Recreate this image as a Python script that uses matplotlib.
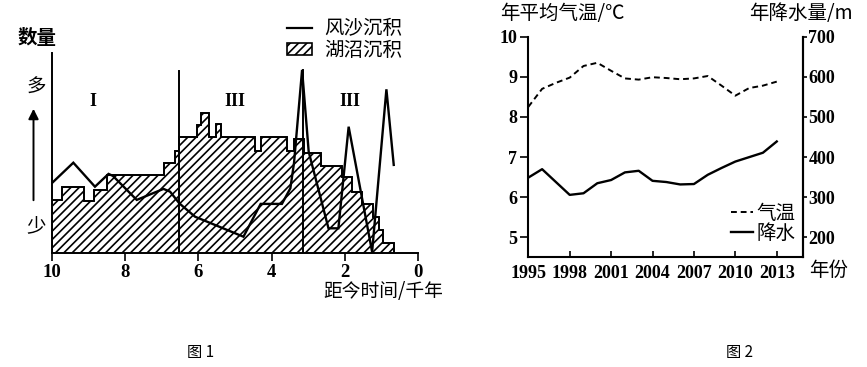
import matplotlib
matplotlib.use("Agg")
import matplotlib.pyplot as plt
from matplotlib.lines import Line2D
from matplotlib.patches import Patch

plt.rcParams['font.family'] = ['Noto Sans CJK SC', 'DejaVu Sans']
plt.rcParams['hatch.linewidth'] = 1.2

W, H = 867, 367
SERIF = {'family': 'Liberation Serif', 'weight': 'bold'}

# ---------------- Figure 1 data ----------------
lake_edges = [0.67, 0.95, 1.06, 1.24, 1.54, 1.81, 2.08, 2.66, 3.13, 3.39, 3.57, 4.29, 4.45,
              5.39, 5.51, 5.70, 5.92, 6.04, 6.52, 6.65, 6.93, 8.50, 8.84, 9.11, 9.73, 10.0]
lake_heights = [0.49, 1.13, 1.79, 2.43, 3.04, 3.76, 4.33, 4.99, 5.66, 5.09, 5.76, 5.09, 5.76,
                6.41, 5.76, 6.99, 6.38, 5.76, 5.08, 4.46, 3.88, 3.13, 2.59, 3.26, 2.63]
wind_x = [10.0, 9.41, 8.82, 8.45, 8.33, 7.68, 6.95, 6.77, 6.52, 6.09, 4.77, 4.30, 3.72, 3.49,
          3.39, 3.17, 2.99, 2.45, 2.18, 1.90, 1.26, 0.87, 0.67]
wind_y = [3.46, 4.49, 3.29, 3.93, 3.83, 2.63, 3.18, 3.04, 2.46, 1.79, 0.79, 2.43, 2.43, 3.21,
          4.48, 9.13, 5.04, 1.21, 1.21, 6.29, 0.03, 8.16, 4.38]
boundary_x = [6.52, 3.15]
boundary_top = [9.09, 9.13]
stage_x = [8.88, 5.0, 1.86]
stage_labels = ['I', 'III', 'III']
x1_ticks = [10, 8, 6, 4, 2, 0]

# ---------------- Figure 2 data ----------------
years = list(range(1995, 2014))
temp = [8.25, 8.70, 8.85, 8.98, 9.27, 9.35, 9.15, 8.96, 8.93, 8.99, 8.97, 8.94, 8.96, 9.02,
        8.78, 8.53, 8.72, 8.78, 8.88]
precip = [349, 370, 338, 306, 310, 335, 343, 362, 366, 341, 338, 332, 333, 356, 373, 389,
          400, 411, 439]
year_ticks = [1995, 1998, 2001, 2004, 2007, 2010, 2013]
temp_ticks = [5, 6, 7, 8, 9, 10]
precip_ticks = [200, 300, 400, 500, 600, 700]

fig = plt.figure(figsize=(W / 100, H / 100), dpi=100)

def fx(px):
    return px / W

def fy(py):
    return 1 - py / H

# ======== Figure 1 ========
ax1 = fig.add_axes([fx(51.7), fy(252.5), fx(418.3 - 51.7), (252.5 - 52.5) / H])
ax1.stairs(lake_heights, lake_edges, fill=True, facecolor='white', edgecolor='black',
           hatch='////', linewidth=1.2)
ax1.stairs(lake_heights, lake_edges, fill=False, color='black', linewidth=1.3)
ax1.plot(wind_x, wind_y, color='black', linewidth=1.7, solid_joinstyle='miter')
for bx, bt in zip(boundary_x, boundary_top):
    ax1.plot([bx, bx], [0, bt], color='black', linewidth=1.4)
for sx, sl in zip(stage_x, stage_labels):
    ax1.text(sx, 7.55, sl, ha='center', va='center', fontsize=13, **SERIF)
ax1.set_xlim(10, 0)
ax1.set_ylim(0, 10)
ax1.set_xticks(x1_ticks)
ax1.set_xticklabels([str(t) for t in x1_ticks], fontsize=13.5, **SERIF)
ax1.tick_params(axis='x', direction='out', length=6, width=1.2, pad=2)
ax1.set_yticks([])
for s in ['top', 'right']:
    ax1.spines[s].set_visible(False)
for s in ['left', 'bottom']:
    ax1.spines[s].set_linewidth(1.4)
ax1.set_facecolor('none')

fig.text(fx(37), fy(38), '数量', ha='center', va='center', fontsize=14, weight='bold')
fig.text(fx(36), fy(87), '多', ha='center', va='center', fontsize=14)
fig.text(fx(36), fy(226), '少', ha='center', va='center', fontsize=14)
fig.patches.append(matplotlib.patches.FancyArrowPatch(
    (fx(33.5), fy(203)), (fx(33.5), fy(106)), transform=fig.transFigure,
    arrowstyle='-|>,head_length=6,head_width=3', color='black', linewidth=1.4))
fig.text(fx(383), fy(292), '距今时间/千年', ha='center', va='center', fontsize=13.5)

leg1 = fig.legend(handles=[Line2D([], [], color='black', linewidth=1.6),
                           Patch(facecolor='white', edgecolor='black', hatch='////', linewidth=1.2)],
                  labels=['风沙沉积', '湖沼沉积'], loc='upper left',
                  bbox_to_anchor=(fx(287), fy(18)), frameon=False, fontsize=14,
                  handlelength=1.3, handleheight=0.55, handletextpad=0.6,
                  labelspacing=0.05, borderpad=0, borderaxespad=0)

# ======== Figure 2 ========
ax2 = fig.add_axes([fx(528.3), fy(256.7), fx(802.7 - 528.3), (256.7 - 36.7) / H])
ax2.plot(years, temp, color='black', linewidth=1.4, linestyle=(0, (3, 2)))
ax2.set_xlim(1995, 2014.88)
ax2.set_ylim(4.516, 10)
ax2.set_xticks(year_ticks)
ax2.set_xticklabels([str(y) for y in year_ticks], fontsize=13, **SERIF)
ax2.set_yticks(temp_ticks)
ax2.set_yticklabels([str(t) for t in temp_ticks], fontsize=13, **SERIF)
ax2.tick_params(axis='x', direction='in', length=4, width=1.2, pad=6)
ax2.tick_params(axis='y', direction='out', length=6, width=1.2, pad=2)
ax2.spines['top'].set_visible(False)
for s in ['left', 'bottom', 'right']:
    ax2.spines[s].set_linewidth(1.5)

ax3 = ax2.twinx()
ax3.plot(years, precip, color='black', linewidth=1.7)
ax3.set_ylim(152, 700)
ax3.set_yticks(precip_ticks)
ax3.set_yticklabels([str(t) for t in precip_ticks], fontsize=13, **SERIF)
ax3.tick_params(axis='y', direction='out', length=3, width=1.2, pad=1)
ax3.spines['top'].set_visible(False)
ax3.spines['left'].set_visible(False)
ax3.spines['bottom'].set_visible(False)
ax3.spines['right'].set_linewidth(1.5)

ax3.legend(handles=[Line2D([], [], color='black', linewidth=1.4, linestyle=(0, (3, 2))),
                    Line2D([], [], color='black', linewidth=1.7)],
           labels=['气温', '降水'], loc='lower right',
           bbox_to_anchor=(fx(795), fy(244)), bbox_transform=fig.transFigure,
           frameon=False, fontsize=14, handlelength=1.15, handletextpad=0.15,
           labelspacing=-0.05, borderpad=0, borderaxespad=0)

fig.text(fx(562), fy(13), '年平均气温/℃', ha='center', va='center', fontsize=14)
fig.text(fx(801), fy(13), '年降水量/m', ha='center', va='center', fontsize=14)
fig.text(fx(829), fy(270), '年份', ha='center', va='center', fontsize=14)

fig.text(fx(201), fy(352), '图 1', ha='center', va='center', fontsize=11)
fig.text(fx(739), fy(352), '图 2', ha='center', va='center', fontsize=11)

fig.savefig('out.png', dpi=100, facecolor='white')
